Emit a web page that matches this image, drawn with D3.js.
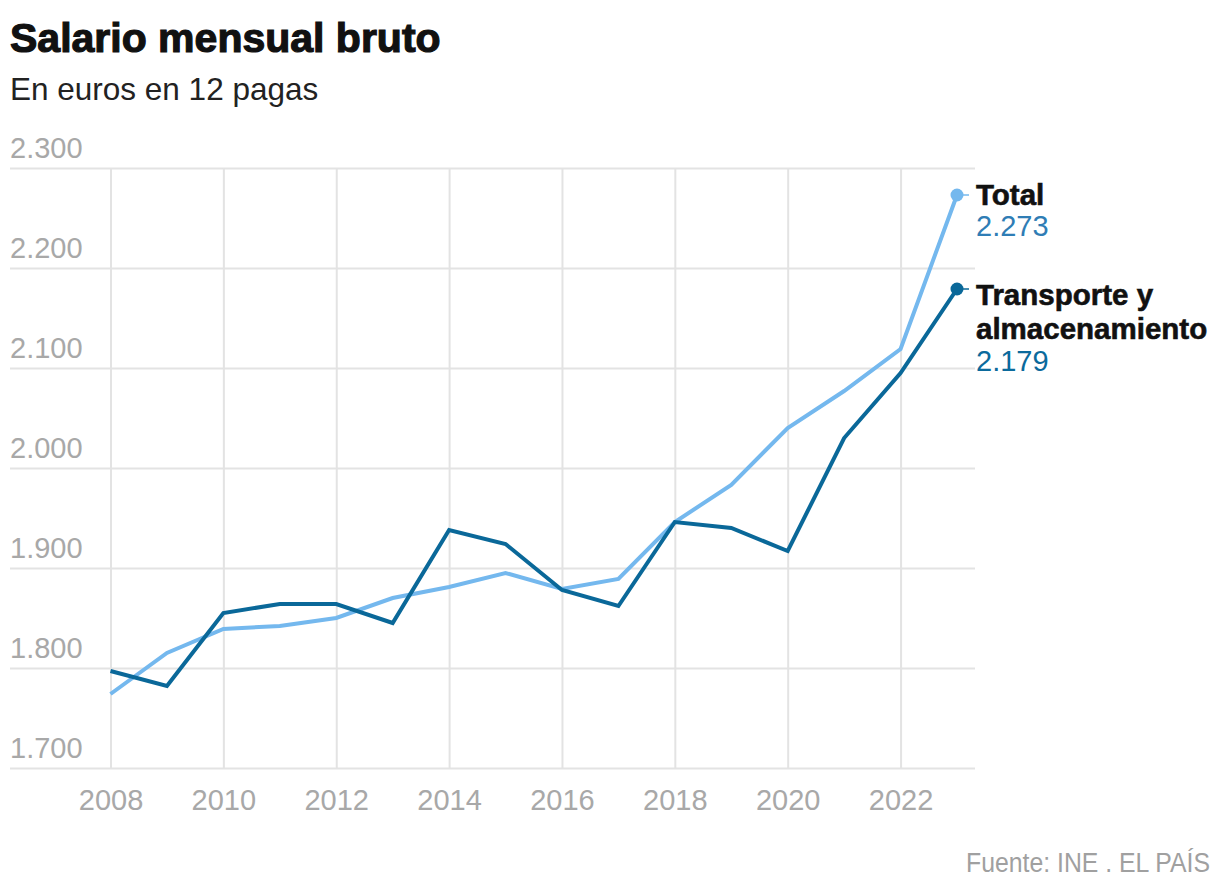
<!DOCTYPE html>
<html>
<head>
<meta charset="utf-8">
<script src="https://cdnjs.cloudflare.com/ajax/libs/d3/7.8.5/d3.min.js"></script>
<style>
  body { margin: 0; background: #fff; }
  svg { display: block; font-family: "Liberation Sans", Arial, sans-serif; }
</style>
</head>
<body>
<svg id="chart"></svg>
<script>
// data
var years = [2008, 2009, 2010, 2011, 2012, 2013, 2014, 2015, 2016, 2017, 2018, 2019, 2020, 2021, 2022, 2023];
var total = [1774, 1815, 1839, 1842, 1850, 1870, 1881, 1895, 1879, 1889, 1946, 1983, 2040, 2077, 2119, 2273];
var transporte = [1797, 1782, 1855, 1864, 1864, 1845, 1938, 1924, 1878, 1862, 1946, 1940, 1917, 2030, 2095, 2179];
var yTicks = [1700, 1800, 1900, 2000, 2100, 2200, 2300];
var xTicks = [2008, 2010, 2012, 2014, 2016, 2018, 2020, 2022];
var seriesNames = ["Total", "Transporte y almacenamiento"];

var w = 1220;
var h = 894;

var svg = d3.select("#chart")
  .attr("width", w)
  .attr("height", h);

// spanish numbers: 2.300
var es = d3.formatLocale({ decimal: ",", thousands: ".", grouping: [3], currency: ["", " €"] });
var fmt = es.format(",d");

var xScale = d3.scaleLinear()
  .domain([2008, 2023])
  .range([110.5, 957]);

var yScale = d3.scaleLinear()
  .domain([1700, 2300])
  .range([768, 168]);

// title (stroke makes it heavier, like the original)
svg.append("text")
  .text("Salario mensual bruto")
  .attr("x", 10)
  .attr("y", 52)
  .attr("font-size", "41px")
  .attr("font-weight", "bold")
  .attr("fill", "#111")
  .attr("stroke", "#111")
  .attr("stroke-width", 1.2);

svg.append("text")
  .text("En euros en 12 pagas")
  .attr("x", 10)
  .attr("y", 100)
  .attr("font-size", "31.5px")
  .attr("fill", "#222");

// horizontal grid + y labels
var yAxis = d3.axisRight(yScale)
  .tickValues(yTicks)
  .tickSize(965)
  .tickFormat(fmt);

var gy = svg.append("g")
  .attr("transform", "translate(10,0)")
  .call(yAxis);
gy.select(".domain").remove();
gy.selectAll("line").attr("stroke", "#e3e3e3").attr("stroke-width", 2);
gy.selectAll("text")
  .attr("x", 0)
  .attr("y", -11)
  .attr("dy", 0)
  .attr("text-anchor", "start")
  .attr("font-size", "29px")
  .attr("font-family", "Liberation Sans, Arial, sans-serif")
  .attr("fill", "#a8a8a8");

// vertical grid + year labels
var xAxis = d3.axisBottom(xScale)
  .tickValues(xTicks)
  .tickSize(600)
  .tickFormat(d3.format("d"));

var gx = svg.append("g")
  .attr("transform", "translate(0,168)")
  .call(xAxis);
gx.select(".domain").remove();
gx.selectAll("line").attr("stroke", "#e3e3e3").attr("stroke-width", 2);
gx.selectAll("text")
  .attr("y", 642)
  .attr("dy", 0)
  .attr("font-size", "29px")
  .attr("font-family", "Liberation Sans, Arial, sans-serif")
  .attr("fill", "#a8a8a8");

// lines
var series = [
  { name: seriesNames[0], values: total, color: "#74b8ee", valueColor: "#2f7db5" },
  { name: seriesNames[1], values: transporte, color: "#0a6899", valueColor: "#0b6a9c" }
];

var line = d3.line()
  .x(function(d, i) { return xScale(years[i]); })
  .y(function(d) { return yScale(d); });

series.forEach(function(s) {
  svg.append("path")
    .datum(s.values)
    .attr("d", line)
    .attr("fill", "none")
    .attr("stroke", s.color)
    .attr("stroke-width", 4)
    .attr("stroke-linejoin", "miter");

  var last = s.values[s.values.length - 1];
  var cx = xScale(years[years.length - 1]);
  var cy = yScale(last);

  svg.append("line")
    .attr("x1", cx + 6)
    .attr("x2", cx + 12)
    .attr("y1", cy)
    .attr("y2", cy)
    .attr("stroke", s.color)
    .attr("stroke-width", 1.5);

  svg.append("circle")
    .attr("cx", cx)
    .attr("cy", cy)
    .attr("r", 6.5)
    .attr("fill", s.color);
});

// end labels
var lx = 976;
var totalY = yScale(total[total.length - 1]);
svg.append("text")
  .text("Total")
  .attr("x", lx)
  .attr("y", totalY + 10)
  .attr("font-size", "29.5px")
  .attr("font-weight", "bold")
  .attr("fill", "#111")
  .attr("stroke", "#111")
  .attr("stroke-width", 0.6);
svg.append("text")
  .text(fmt(total[total.length - 1]))
  .attr("x", lx)
  .attr("y", totalY + 41)
  .attr("font-size", "29px")
  .attr("fill", series[0].valueColor);

var trY = yScale(transporte[transporte.length - 1]);
svg.append("text")
  .text("Transporte y")
  .attr("x", lx)
  .attr("y", trY + 16)
  .attr("font-size", "29.5px")
  .attr("font-weight", "bold")
  .attr("fill", "#111")
  .attr("stroke", "#111")
  .attr("stroke-width", 0.6);
svg.append("text")
  .text("almacenamiento")
  .attr("x", lx)
  .attr("y", trY + 50)
  .attr("font-size", "29.5px")
  .attr("font-weight", "bold")
  .attr("fill", "#111")
  .attr("stroke", "#111")
  .attr("stroke-width", 0.6);
svg.append("text")
  .text(fmt(transporte[transporte.length - 1]))
  .attr("x", lx)
  .attr("y", trY + 82)
  .attr("font-size", "29px")
  .attr("fill", series[1].valueColor);

// source (squeezed to look condensed)
svg.append("text")
  .text("Fuente: INE . EL PAÍS")
  .attr("x", 1210)
  .attr("y", 872)
  .attr("text-anchor", "end")
  .attr("font-size", "27px")
  .attr("textLength", 244)
  .attr("lengthAdjust", "spacingAndGlyphs")
  .attr("fill", "#a0a0a0");
</script>
</body>
</html>
